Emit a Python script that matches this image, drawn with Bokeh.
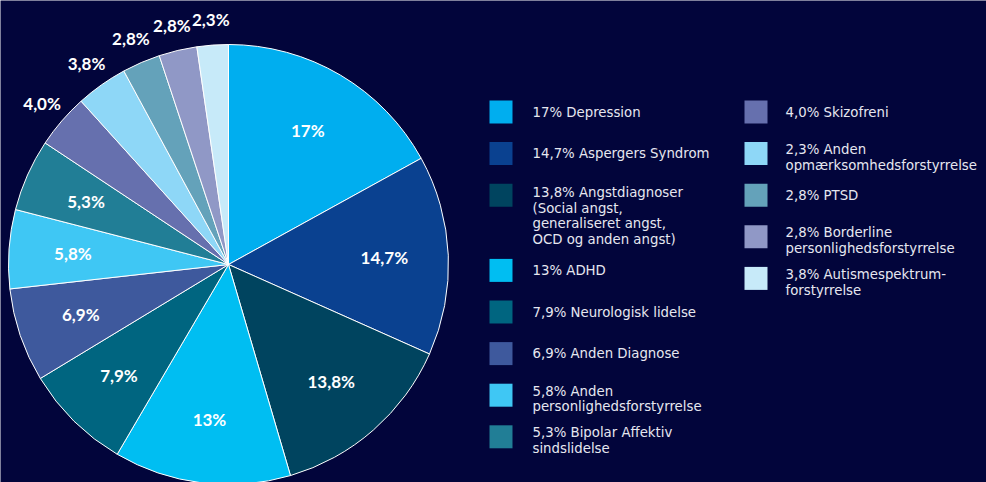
import math
from bokeh.plotting import figure
from bokeh.models import Range1d, ColumnDataSource
from bokeh.core.properties import value
from bokeh.embed import file_html
from bokeh.resources import INLINE

# ---- data ----
slice_values = [17, 14.7, 13.8, 13, 7.9, 6.9, 5.8, 5.3, 4.0, 3.8, 2.8, 2.8, 2.3]
slice_labels = ["17%", "14,7%", "13,8%", "13%", "7,9%", "6,9%", "5,8%", "5,3%",
                "4,0%", "3,8%", "2,8%", "2,8%", "2,3%"]
slice_colors = ["#00AEEF", "#0A4190", "#00445F", "#00BEF2", "#006580", "#3E599D",
                "#3FC7F4", "#217E96", "#6670AE", "#8ED7F7", "#64A2BA", "#9098C6",
                "#C7EAF9"]
legend_labels = [
    "17% Depression",
    "14,7% Aspergers Syndrom",
    "13,8% Angstdiagnoser\n(Social angst,\ngeneraliseret angst,\nOCD og anden angst)",
    "13% ADHD",
    "7,9% Neurologisk lidelse",
    "6,9% Anden Diagnose",
    "5,8% Anden\npersonlighedsforstyrrelse",
    "5,3% Bipolar Affektiv\nsindslidelse",
    "4,0% Skizofreni",
    "2,3% Anden\nopmærksomhedsforstyrrelse",
    "2,8% PTSD",
    "2,8% Borderline\npersonlighedsforstyrrelse",
    "3,8% Autismespektrum-\nforstyrrelse",
]

# ---- layout ----
W, H = 986, 482
BG = "#02053B"
cx, cy, R = 228, 218, 220
inner_r, outer_r = 156, 246

p = figure(width=W, height=H, output_backend="svg", toolbar_location=None,
           x_range=Range1d(0, W), y_range=Range1d(0, H),
           x_axis_location=None, y_axis_location=None, min_border=0)
p.background_fill_color = BG
p.border_fill_color = BG
p.outline_line_color = None
p.xgrid.visible = False
p.ygrid.visible = False

total = sum(slice_values)
starts, ends, lx, ly = [], [], [], []
cum = 0.0
for v in slice_values:
    a0 = math.pi / 2 - 2 * math.pi * cum / total
    a1 = math.pi / 2 - 2 * math.pi * (cum + v) / total
    mid = (a0 + a1) / 2
    r = inner_r if v >= 5 else outer_r
    starts.append(a0)
    ends.append(a1)
    lx.append(cx + r * math.cos(mid))
    ly.append(cy + r * math.sin(mid))
    cum += v

src = ColumnDataSource(dict(start=starts, end=ends, color=slice_colors,
                            lx=lx, ly=ly, label=slice_labels))
p.wedge(x=cx, y=cy, radius=R, start_angle="start", end_angle="end",
        direction="clock", fill_color="color", line_color="white",
        line_width=1, source=src)
p.text(x="lx", y="ly", text="label", source=src, text_color="white",
       text_font=value("Lato"), text_font_style="bold", text_font_size="17px",
       text_align="center", text_baseline="middle")

# ---- legend (manual) ----
split = 8
col_mx = [500.5, 755.5]
col_tx = [532, 785]
y_top = 370.5
slot = 41.6
line_h = 16.8
mx, my, tx, ty, lc = [], [], [], [], []
for col, items in enumerate([range(0, split), range(split, len(legend_labels))]):
    y = y_top
    for i in items:
        n = legend_labels[i].count("\n") + 1
        mx.append(col_mx[col])
        my.append(y)
        tx.append(col_tx[col])
        if n == 1:
            ty.append(y)
        else:
            ty.append(y + 4.5 - (n - 1) * line_h / 2)
        lc.append(slice_colors[i])
        y -= slot + line_h * max(0, n - 2)

lsrc = ColumnDataSource(dict(mx=mx, my=my, tx=tx, ty=ty, color=lc,
                             text=legend_labels))
p.rect(x="mx", y="my", width=23, height=23, fill_color="color",
       line_color=None, source=lsrc)
p.text(x="tx", y="ty", text="text", source=lsrc, text_color="#E6E7F0",
       text_font=value("DejaVu Sans"), text_font_size="13.3px",
       text_align="left", text_baseline="middle", text_line_height=1.04)

open("out.html", "w").write(file_html(p, INLINE))
